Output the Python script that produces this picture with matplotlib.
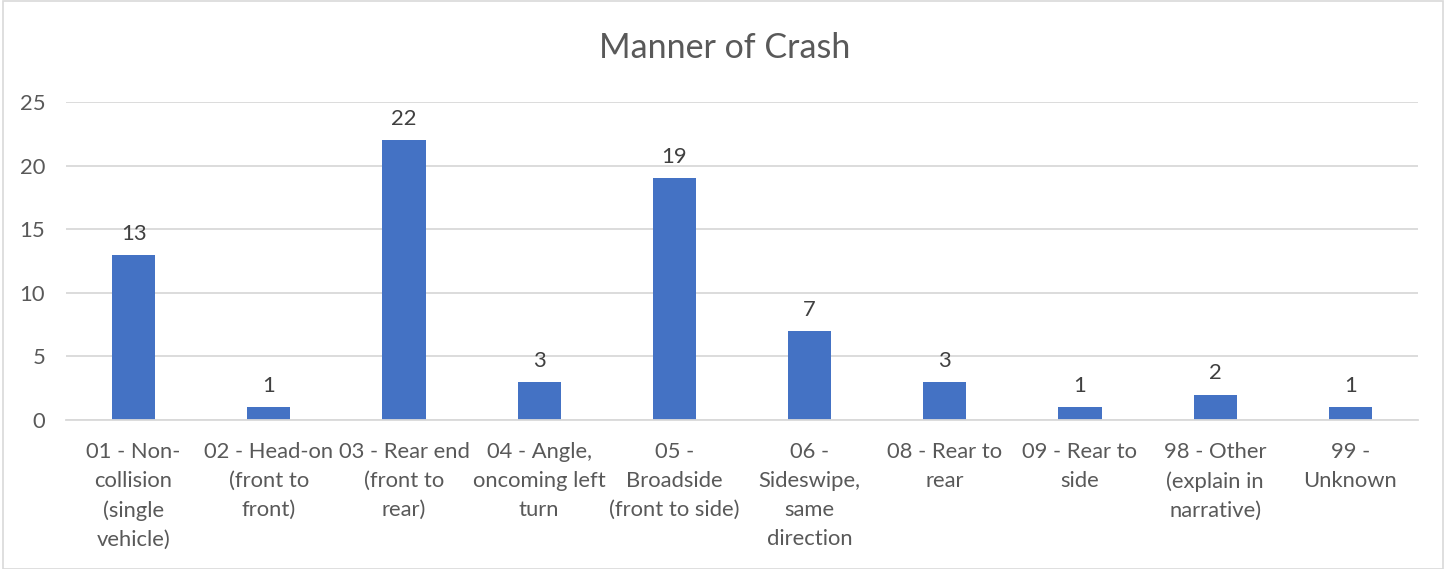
import matplotlib
matplotlib.use("Agg")
import matplotlib.pyplot as plt
from matplotlib.patches import Rectangle

categories = [
    "01 - Non-\ncollision\n(single\nvehicle)",
    "02 - Head-on\n(front to\nfront)",
    "03 - Rear end\n(front to\nrear)",
    "04 - Angle,\noncoming left\nturn",
    "05 -\nBroadside\n(front to side)",
    "06 -\nSideswipe,\nsame\ndirection",
    "08 - Rear to\nrear",
    "09 - Rear to\nside",
    "98 - Other\n(explain in\nnarrative)",
    "99 -\nUnknown",
]
values = [13, 1, 22, 3, 19, 7, 3, 1, 2, 1]
yticks = [0, 5, 10, 15, 20, 25]
title = "Manner of Crash"

plt.rcParams['font.family'] = ['Lato', 'DejaVu Sans']
txt = "#595959"
grid = "#d9d9d9"
bar_color = "#4472C4"
fs = 15.8

fig = plt.figure(figsize=(14.48, 5.69), dpi=100)
ax = fig.add_axes([66/1448, 1-420/569, (1418-66)/1448, (420-102)/569])

x = list(range(len(categories)))
bars = ax.bar(x, values, width=0.32, color=bar_color, zorder=3)
for xi, v in zip(x, values):
    ax.annotate(str(v), (xi, v), xytext=(0, 8), textcoords="offset points",
                ha="center", va="bottom", fontsize=fs, color="#404040")

ax.set_xlim(-0.5, len(categories) - 0.5)
ax.set_ylim(0, 25)
ax.set_yticks(yticks)
ax.set_yticklabels([str(t) for t in yticks], fontsize=fs, color=txt)
ax.set_xticks(x)
ax.set_xticklabels(categories, fontsize=fs, color=txt, linespacing=1.55, va="top")
ax.tick_params(axis="both", length=0)
ax.tick_params(axis="x", pad=16)
ax.tick_params(axis="y", pad=15)
ax.grid(axis="y", color=grid, linewidth=1.3, zorder=0)
for s in ["top", "right", "left"]:
    ax.spines[s].set_visible(False)
ax.spines["bottom"].set_color(grid)
ax.spines["bottom"].set_linewidth(1.3)
ax.spines["bottom"].set_zorder(4)

fig.text(725/1448, 1-48/569, title, ha="center", va="center", fontsize=24.5, color=txt)

fig.patches.append(Rectangle((3/1448, 0), (1443-3)/1448, 1 - 1/569, transform=fig.transFigure,
                             fill=False, edgecolor="#d9d9d9", linewidth=1.2))

fig.savefig("out.png", dpi=100)
